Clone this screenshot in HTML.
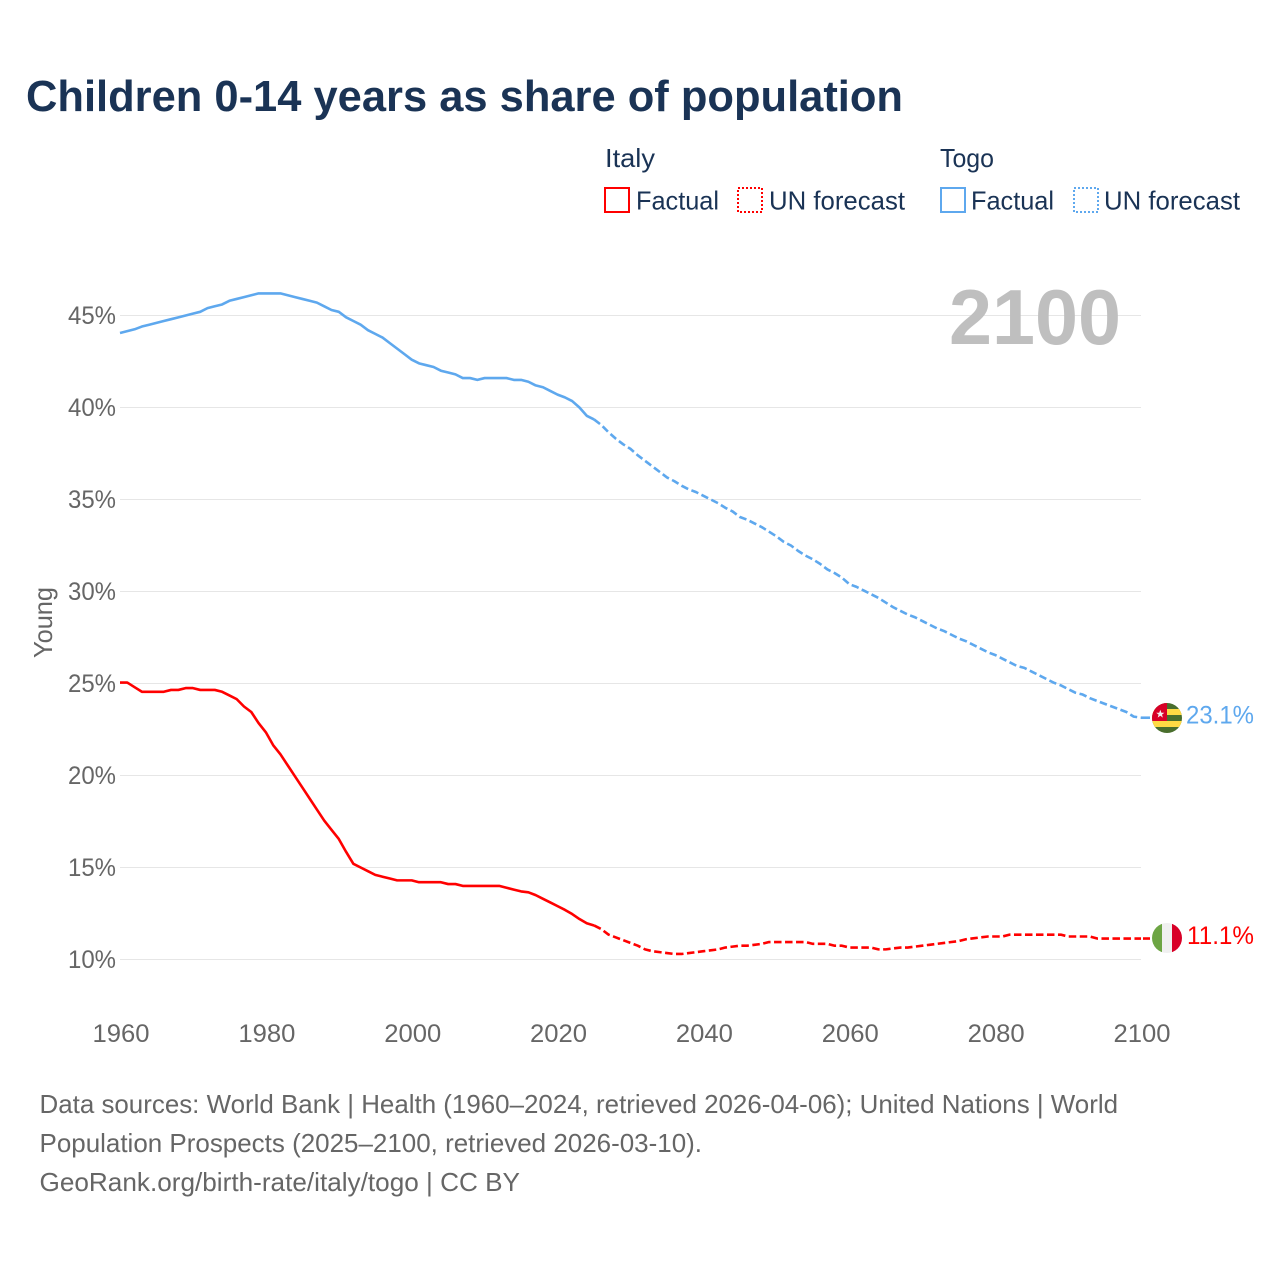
<!DOCTYPE html>
<html lang="en">
<head>
<meta charset="utf-8">
<title>Children 0-14 years as share of population</title>
<style>
html,body{margin:0;padding:0;background:#fff;width:1280px;height:1280px;overflow:hidden}
svg{display:block}
text{font-family:"Liberation Sans",sans-serif}
</style>
</head>
<body>
<svg id="chart" xmlns="http://www.w3.org/2000/svg" width="1280" height="1280" viewBox="0 0 1280 1280">
  <defs>
    <clipPath id="togo-clip"><circle cx="1167" cy="718" r="15"/></clipPath>
    <clipPath id="italy-clip"><circle cx="1167" cy="938" r="15"/></clipPath>
  </defs>
  <rect x="0" y="0" width="1280" height="1280" fill="#ffffff"/>
  <text x="26" y="111" font-size="44" font-weight="700" fill="#1a3355" textLength="877" lengthAdjust="spacingAndGlyphs">Children 0-14 years as share of population</text>

  <g font-size="26" fill="#1a3355">
    <text x="605" y="167" textLength="50" lengthAdjust="spacingAndGlyphs">Italy</text>
    <text x="940" y="167" textLength="54" lengthAdjust="spacingAndGlyphs">Togo</text>
    <rect x="605" y="188" width="24" height="24" fill="none" stroke="#ff0000" stroke-width="2"/>
    <text x="636" y="209.5" textLength="83" lengthAdjust="spacingAndGlyphs">Factual</text>
    <rect x="738" y="188" width="24" height="24" fill="none" stroke="#ff0000" stroke-width="2" stroke-dasharray="2 2"/>
    <text x="769" y="209.5" textLength="136" lengthAdjust="spacingAndGlyphs">UN forecast</text>
    <rect x="941" y="188" width="24" height="24" fill="none" stroke="#5ea8ee" stroke-width="2"/>
    <text x="971" y="209.5" textLength="83" lengthAdjust="spacingAndGlyphs">Factual</text>
    <rect x="1074" y="188" width="24" height="24" fill="none" stroke="#5ea8ee" stroke-width="2" stroke-dasharray="2 2"/>
    <text x="1104" y="209.5" textLength="136" lengthAdjust="spacingAndGlyphs">UN forecast</text>
  </g>

  <g id="grid"></g>
  <g id="y-ticks"></g>
  <g id="x-ticks"></g>
  <text transform="translate(52 658) rotate(-90)" x="0" y="0" font-size="26" fill="#666666" textLength="71" lengthAdjust="spacingAndGlyphs">Young</text>
  <text x="949" y="344" font-size="78" font-weight="700" fill="#bfbfbf" textLength="172" lengthAdjust="spacingAndGlyphs">2100</text>

  <g id="series"></g>

  <g clip-path="url(#togo-clip)">
    <rect x="1152" y="703" width="30" height="30" fill="#496e2d"/>
    <rect x="1152" y="709" width="30" height="6" fill="#ffda44"/>
    <rect x="1152" y="721" width="30" height="6" fill="#ffda44"/>
    <rect x="1152" y="703" width="15" height="18" fill="#d80027"/>
    <polygon points="1160.3,709.7 1161.4,712.7 1164.4,712.7 1162,714.6 1162.9,717.6 1160.3,715.8 1157.7,717.6 1158.6,714.6 1156.2,712.7 1159.2,712.7" fill="#f0f0f0"/>
  </g>
  <g clip-path="url(#italy-clip)">
    <rect x="1152" y="923" width="10" height="30" fill="#6da544"/>
    <rect x="1162" y="923" width="10" height="30" fill="#f0f0f0"/>
    <rect x="1172" y="923" width="10" height="30" fill="#d80027"/>
  </g>
  <text id="togo-end" x="1186" y="723.5" font-size="25" fill="#5ea8ee" textLength="68" lengthAdjust="spacingAndGlyphs"></text>
  <text id="italy-end" x="1187" y="944" font-size="25" fill="#ff0000" textLength="67" lengthAdjust="spacingAndGlyphs"></text>

  <g font-size="26" fill="#666666">
    <text x="39.5" y="1113" textLength="1078.5" lengthAdjust="spacingAndGlyphs">Data sources: World Bank | Health (1960–2024, retrieved 2026-04-06); United Nations | World</text>
    <text x="39.5" y="1152" textLength="662.5" lengthAdjust="spacingAndGlyphs">Population Prospects (2025–2100, retrieved 2026-03-10).</text>
    <text x="39.5" y="1191" textLength="480.5" lengthAdjust="spacingAndGlyphs">GeoRank.org/birth-rate/italy/togo | CC BY</text>
  </g>
</svg>
<script>
var yTickValues = [10, 15, 20, 25, 30, 35, 40, 45];
var xTickYears = [1960, 1980, 2000, 2020, 2040, 2060, 2080, 2100];
var factualStartYear = 1960;
var forecastStartYear = 2025;
var italyFactual = [25.05,25.05,24.8,24.55,24.55,24.55,24.55,24.65,24.65,24.75,24.75,24.65,24.65,24.65,24.55,24.35,24.15,23.75,23.45,22.85,22.35,21.65,21.15,20.55,19.95,19.35,18.75,18.15,17.55,17.05,16.55,15.85,15.2,15.0,14.8,14.6,14.5,14.4,14.3,14.3,14.3,14.2,14.2,14.2,14.2,14.1,14.1,14.0,14.0,14.0,14.0,14.0,14.0,13.9,13.8,13.7,13.65,13.5,13.3,13.1,12.9,12.7,12.47,12.2,11.97,11.85];
var italyForecast = [11.85,11.65,11.35,11.2,11.05,10.9,10.75,10.55,10.45,10.4,10.35,10.3,10.3,10.35,10.4,10.45,10.5,10.55,10.65,10.7,10.75,10.75,10.8,10.85,10.95,10.95,10.95,10.95,10.95,10.95,10.85,10.85,10.85,10.75,10.75,10.65,10.65,10.65,10.65,10.55,10.55,10.6,10.65,10.65,10.7,10.75,10.8,10.85,10.9,10.95,11.0,11.1,11.15,11.2,11.25,11.25,11.25,11.35,11.35,11.35,11.35,11.35,11.35,11.35,11.35,11.25,11.25,11.25,11.25,11.14,11.14,11.14,11.14,11.14,11.14,11.14];
var togoFactual = [44.05,44.15,44.25,44.4,44.5,44.6,44.7,44.8,44.9,45.0,45.1,45.2,45.4,45.5,45.6,45.8,45.9,46.0,46.1,46.2,46.2,46.2,46.2,46.1,46.0,45.9,45.8,45.7,45.5,45.3,45.2,44.9,44.7,44.5,44.2,44.0,43.8,43.5,43.2,42.9,42.6,42.4,42.3,42.2,42.0,41.9,41.8,41.6,41.6,41.5,41.6,41.6,41.6,41.6,41.5,41.5,41.4,41.2,41.1,40.9,40.7,40.55,40.35,40.0,39.55,39.35];
var togoForecast = [39.35,39.05,38.65,38.3,38.0,37.75,37.4,37.1,36.8,36.5,36.2,36.0,35.75,35.55,35.4,35.2,35.0,34.8,34.55,34.35,34.05,33.9,33.7,33.5,33.25,33.0,32.7,32.5,32.2,31.95,31.75,31.5,31.2,31.0,30.75,30.4,30.25,30.05,29.85,29.65,29.4,29.15,28.95,28.75,28.6,28.4,28.2,28.0,27.85,27.65,27.45,27.3,27.1,26.9,26.7,26.55,26.35,26.15,25.95,25.85,25.65,25.45,25.25,25.05,24.9,24.7,24.5,24.4,24.2,24.05,23.9,23.75,23.6,23.45,23.2,23.14];

var SVG_NS = 'http://www.w3.org/2000/svg';
function xScale(year) { return 120 + (year - 1960) * (1021 / 140); }
function yScale(pct) { return 959.5 - (pct - 10) * 18.4; }
function linePath(values, startYear) {
  var d = '';
  for (var i = 0; i < values.length; i++) {
    d += (i ? 'L' : 'M') + xScale(startYear + i).toFixed(2) + ' ' + yScale(values[i]).toFixed(2);
  }
  return d;
}

var grid = document.getElementById('grid');
var yTicks = document.getElementById('y-ticks');
yTickValues.forEach(function (v) {
  var line = document.createElementNS(SVG_NS, 'line');
  
  
  line.setAttribute('x1', 120);
  line.setAttribute('x2', 1141);
  line.setAttribute('y1', yScale(v));
  line.setAttribute('y2', yScale(v));
  line.setAttribute('stroke', '#e6e6e6');
  line.setAttribute('stroke-width', '1');
  grid.appendChild(line);

  var label = document.createElementNS(SVG_NS, 'text');
  
  
  label.setAttribute('x', 68);
  label.setAttribute('y', yScale(v) + 8.5);
  label.setAttribute('font-size', '25');
  label.setAttribute('fill', '#666666');
  label.setAttribute('textLength', '48');
  label.setAttribute('lengthAdjust', 'spacingAndGlyphs');
  label.textContent = v + '%';
  yTicks.appendChild(label);
});

var xTicks = document.getElementById('x-ticks');
xTickYears.forEach(function (yr) {
  var label = document.createElementNS(SVG_NS, 'text');
  
  
  label.setAttribute('x', xScale(yr) + 1 - 28.5);
  label.setAttribute('y', 1042);
  label.setAttribute('font-size', '25');
  label.setAttribute('fill', '#666666');
  label.setAttribute('textLength', '57');
  label.setAttribute('lengthAdjust', 'spacingAndGlyphs');
  label.textContent = yr;
  xTicks.appendChild(label);
});

var seriesGroup = document.getElementById('series');
function addLine(name, d, color, dashed) {
  var p = document.createElementNS(SVG_NS, 'path');
  
  
  p.setAttribute('d', d);
  p.setAttribute('fill', 'none');
  p.setAttribute('stroke', color);
  p.setAttribute('stroke-width', '2.6');
  p.setAttribute('stroke-linejoin', 'round');
  if (dashed) p.setAttribute('stroke-dasharray', '7.5 3.5');
  seriesGroup.appendChild(p);
}
var togoLast = togoForecast[togoForecast.length - 1];
var italyLast = italyForecast[italyForecast.length - 1];
addLine('line-togo-factual', linePath(togoFactual, factualStartYear), '#5ea8ee', false);
addLine('line-togo-forecast', linePath(togoForecast, forecastStartYear), '#5ea8ee', true);
addLine('connector-togo', 'M' + xScale(2100) + ' ' + yScale(togoLast) + 'L' + (xScale(2100) + 9) + ' ' + yScale(togoLast), '#5ea8ee', false);
addLine('line-italy-factual', linePath(italyFactual, factualStartYear), '#ff0000', false);
addLine('line-italy-forecast', linePath(italyForecast, forecastStartYear), '#ff0000', true);
addLine('connector-italy', 'M' + (xScale(2100) + 2) + ' ' + yScale(italyLast) + 'L' + (xScale(2100) + 9) + ' ' + yScale(italyLast), '#ff0000', false);

document.getElementById('togo-end').textContent = togoLast.toFixed(1) + '%';
document.getElementById('italy-end').textContent = italyLast.toFixed(1) + '%';
</script>
</body>
</html>
